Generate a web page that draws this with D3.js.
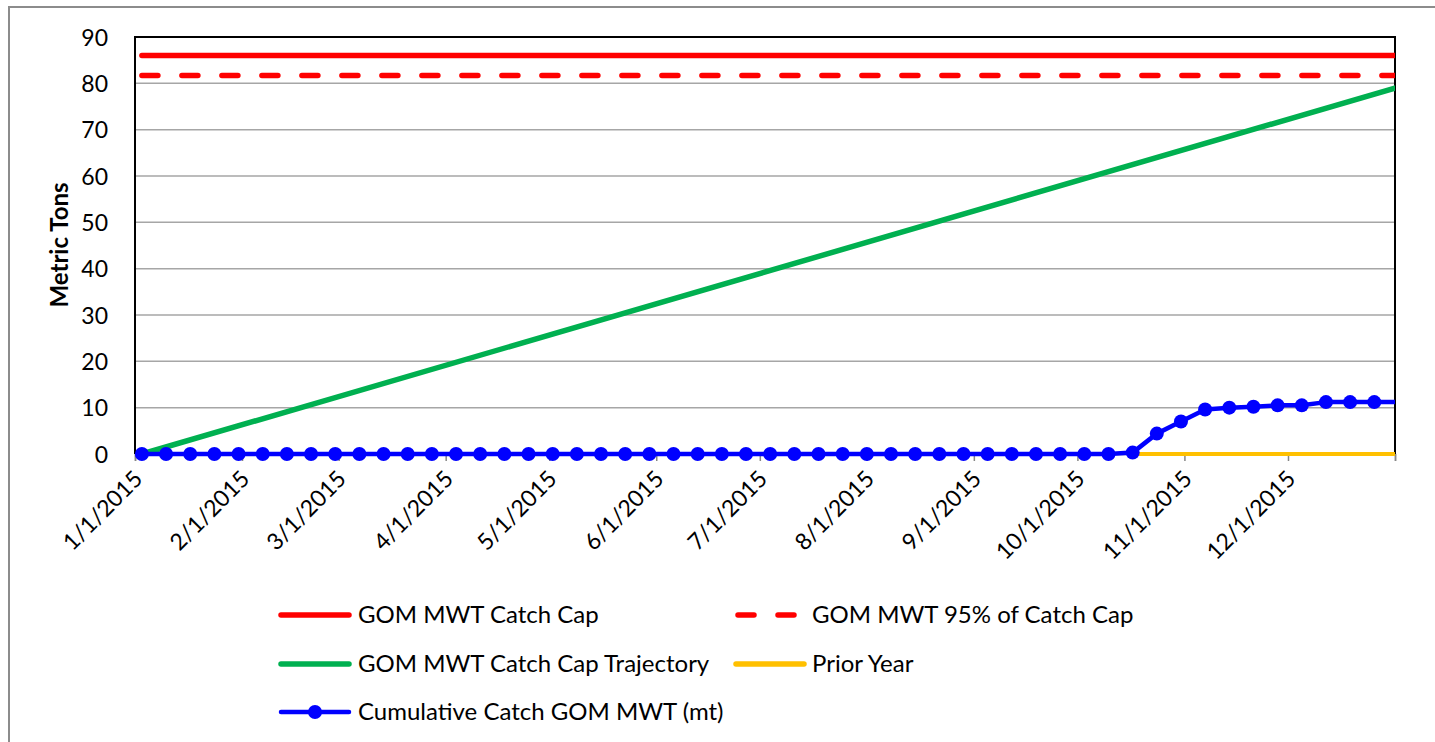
<!DOCTYPE html>
<html>
<head>
<meta charset="utf-8">
<script src="https://cdn.jsdelivr.net/npm/d3@7"></script>
<style>
  body { margin: 0; background: #fff; }
  svg { display: block; font-family: Lato, "Liberation Sans", sans-serif; }
</style>
</head>
<body>
<div id="chart"></div>
<script>
// weekly catch report dates (Saturdays) and cumulative catch, metric tons
var weekDates = ["1/3/2015","1/10/2015","1/17/2015","1/24/2015","1/31/2015","2/7/2015","2/14/2015","2/21/2015","2/28/2015",
  "3/7/2015","3/14/2015","3/21/2015","3/28/2015","4/4/2015","4/11/2015","4/18/2015","4/25/2015","5/2/2015","5/9/2015",
  "5/16/2015","5/23/2015","5/30/2015","6/6/2015","6/13/2015","6/20/2015","6/27/2015","7/4/2015","7/11/2015","7/18/2015",
  "7/25/2015","8/1/2015","8/8/2015","8/15/2015","8/22/2015","8/29/2015","9/5/2015","9/12/2015","9/19/2015","9/26/2015",
  "10/3/2015","10/10/2015","10/17/2015","10/24/2015","10/31/2015","11/7/2015","11/14/2015","11/21/2015","11/28/2015",
  "12/5/2015","12/12/2015","12/19/2015","12/26/2015","1/2/2016"];
var cumulative = [0,0,0,0,0,0,0,0,0,
  0,0,0,0,0,0,0,0,0,0,
  0,0,0,0,0,0,0,0,0,0,
  0,0,0,0,0,0,0,0,0,0,
  0,0,0.3,4.4,7.0,9.6,10.0,10.2,10.5,
  10.5,11.2,11.2,11.2,11.2];

var capDates = ["1/3/2015", "1/2/2016"];
var catchCap = [86, 86];
var catchCap95 = [81.7, 81.7];
var trajectory = [0, 79.2];
var priorDates = ["10/17/2015", "1/2/2016"];
var priorYear = [0, 0];

var yTicks = [0, 10, 20, 30, 40, 50, 60, 70, 80, 90];
var axisStart = "1/1/2015", axisEnd = "1/1/2016";

var legendItems = [
  { name: "GOM MWT Catch Cap", color: "#ff0000", dash: null, marker: false },
  { name: "GOM MWT 95% of Catch Cap", color: "#ff0000", dash: "16,24", marker: false },
  { name: "GOM MWT Catch Cap Trajectory", color: "#00b050", dash: null, marker: false },
  { name: "Prior Year", color: "#ffc000", dash: null, marker: false },
  { name: "Cumulative Catch GOM MWT (mt)", color: "#0000ff", dash: null, marker: true }
];

var W = 1435, H = 742;
var margin = { top: 37, right: 40, bottom: 288, left: 135 };
var width = W - margin.left - margin.right,
    height = H - margin.top - margin.bottom;
var fontSize = 23;

var parse = d3.timeParse("%m/%d/%Y");

var svg = d3.select("#chart").append("svg")
  .attr("width", W)
  .attr("height", H);

// outer chart-area frame
svg.append("rect")
  .attr("x", 9).attr("y", 7)
  .attr("width", 1500).attr("height", 900)
  .attr("fill", "none")
  .attr("stroke", "#8c8c8c")
  .attr("stroke-width", 2);

var g = svg.append("g")
  .attr("transform", "translate(" + margin.left + "," + margin.top + ")");

var x = d3.scaleTime()
  .domain([parse(axisStart), parse(axisEnd)])
  .range([0, width]);
var y = d3.scaleLinear()
  .domain([0, 90])
  .range([height, 0]);

// gridlines
g.append("g")
  .selectAll("line")
  .data(yTicks.filter(function (d) { return d > 0 && d < 90; }))
  .enter().append("line")
  .attr("x1", 0).attr("x2", width)
  .attr("y1", function (d) { return y(d); })
  .attr("y2", function (d) { return y(d); })
  .attr("stroke", "#a6a6a6")
  .attr("stroke-width", 1.5);

// y axis labels
var yAxis = d3.axisLeft(y).tickValues(yTicks).tickSize(0).tickPadding(27);
g.append("g")
  .call(yAxis)
  .call(function (a) {
    a.select(".domain").remove();
    a.selectAll(".tick text")
      .attr("font-family", "Lato, sans-serif")
      .attr("font-size", fontSize)
      .attr("fill", "#000")
      .attr("dy", "0.35em");
  });

// x axis
var monthTicks = d3.timeMonth.range(parse(axisStart), d3.timeDay.offset(parse(axisEnd), 1));
var fmt = d3.timeFormat("%-m/%-d/%Y");
var xAxis = d3.axisBottom(x).tickValues(monthTicks).tickSize(7).tickFormat(function (d) {
  return +d === +parse(axisEnd) ? "" : fmt(d);
});
g.append("g")
  .attr("transform", "translate(0," + height + ")")
  .call(xAxis)
  .call(function (a) {
    a.select(".domain").attr("stroke", "#868686").attr("stroke-width", 1.5);
    a.selectAll(".tick line").attr("stroke", "#868686").attr("stroke-width", 1.5);
    a.selectAll(".tick text")
      .attr("font-family", "Lato, sans-serif")
      .attr("font-size", fontSize)
      .attr("fill", "#000")
      .attr("text-anchor", "end")
      .attr("transform", "translate(-3,15) rotate(-45)")
      .attr("x", 0).attr("y", 0).attr("dy", "0.7em");
  });

// plot frame: left, top, right
g.append("path")
  .attr("d", "M0," + height + "V0H" + width + "V" + height)
  .attr("fill", "none")
  .attr("stroke", "#000")
  .attr("stroke-width", 2);

// clip for series
g.append("clipPath").attr("id", "plotclip")
  .append("rect").attr("x", -10).attr("y", -10).attr("width", width + 10).attr("height", height + 20);

var series = g.append("g").attr("clip-path", "url(#plotclip)");

var line = d3.line()
  .x(function (d) { return x(d[0]); })
  .y(function (d) { return y(d[1]); });

function zipDates(dates, vals) {
  return dates.map(function (d, i) { return [parse(d), vals[i]]; });
}

function drawLine(data, color, w, dash) {
  var p = series.append("path")
    .datum(data)
    .attr("d", line)
    .attr("fill", "none")
    .attr("stroke", color)
    .attr("stroke-width", w)
    .attr("stroke-linecap", "round")
    .attr("stroke-linejoin", "round");
  if (dash) p.attr("stroke-dasharray", dash);
}

drawLine(zipDates(capDates, catchCap), "#ff0000", 5.5, null);
drawLine(zipDates(capDates, catchCap95), "#ff0000", 5.5, "16,24");
drawLine(zipDates(capDates, trajectory), "#00b050", 5.5, null);
drawLine(zipDates(priorDates, priorYear), "#ffc000", 4, null);

var cumData = zipDates(weekDates, cumulative);
drawLine(cumData, "#0000ff", 4.5, null);
series.append("g")
  .selectAll("circle")
  .data(cumData.filter(function (d) { return d[0] < parse(axisEnd); }))
  .enter().append("circle")
  .attr("cx", function (d) { return x(d[0]); })
  .attr("cy", function (d) { return y(d[1]); })
  .attr("r", 7)
  .attr("fill", "#0000ff");

// y axis title
svg.append("text")
  .attr("transform", "translate(68,245) rotate(-90)")
  .attr("text-anchor", "middle")
  .attr("font-family", "Lato, sans-serif")
  .attr("font-weight", "bold")
  .attr("font-size", 24)
  .text("Metric Tons");

// legend
var legendPos = [[281, 615], [736, 615], [281, 664], [736, 664], [281, 712]];
var lg = svg.append("g");
legendItems.forEach(function (item, i) {
  var px = legendPos[i][0], py = legendPos[i][1];
  var lw = 68;
  var l = lg.append("line")
    .attr("x1", px).attr("x2", px + lw)
    .attr("y1", py).attr("y2", py)
    .attr("stroke", item.color)
    .attr("stroke-width", item.marker ? 4.5 : 5.5)
    .attr("stroke-linecap", "round");
  if (item.dash) l.attr("stroke-dasharray", item.dash).attr("x1", px + 2);
  if (item.marker) {
    lg.append("circle").attr("cx", px + lw / 2).attr("cy", py).attr("r", 7).attr("fill", item.color);
  }
  lg.append("text")
    .attr("x", px + lw + (i % 2 === 1 ? 8 : 9))
    .attr("y", py)
    .attr("dy", "0.35em")
    .attr("font-family", "Lato, sans-serif")
    .attr("font-size", 24)
    .attr("fill", "#000")
    .text(item.name);
});
</script>
</body>
</html>
